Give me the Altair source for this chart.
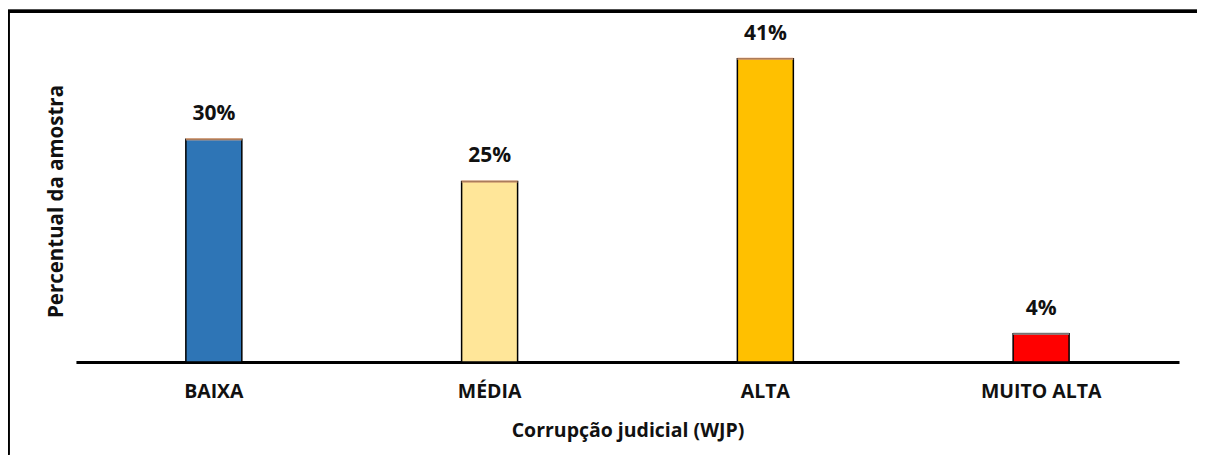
import altair as alt
import pandas as pd

categories = ["BAIXA", "MÉDIA", "ALTA", "MUITO ALTA"]
values = [30.1, 24.4, 41.0, 3.8]
labels = ["30%", "25%", "41%", "4%"]
fills = ["#2E75B6", "#FFE699", "#FFC000", "#FF0000"]
caps = ["#F4B183", "#F4B183", "#F4B183", "#A5A5A5"]

df = pd.DataFrame({"cat": categories, "val": values, "lab": labels,
                   "fill": fills, "cap": caps})

W, H = 1180, 444
FONT = "Open Sans"

xscale = alt.Scale(domain=categories, range=[68, 1172],
                   paddingInner=0.797, paddingOuter=0.3986)
yscale = alt.Scale(domain=[0, 45], range=[351, 18])

x_enc = alt.X("cat:N", sort=categories, scale=xscale,
              axis=alt.Axis(title="Corrupção judicial (WJP)", labelAngle=0,
                            labelFont=FONT, labelFontWeight="bold", labelFontSize=19.5,
                            labelColor="#111111", labelPadding=21,
                            titleFont=FONT, titleFontWeight="bold", titleFontSize=19.5,
                            titleColor="#111111", titlePadding=20,
                            domainColor="#000000", domainWidth=3, ticks=False,
                            offset=-(H - 351)))
y_enc = alt.Y("val:Q", scale=yscale,
              axis=alt.Axis(title="Percentual da amostra", labels=False, ticks=False,
                            domain=False, grid=False,
                            titleFont=FONT, titleFontWeight="bold", titleFontSize=20.5,
                            titleColor="#111111", titleAngle=-90,
                            titleX=49, titleY=190, titleAlign="center",
                            titleBaseline="middle"))

bars = alt.Chart(df).mark_bar(stroke="#000000", strokeWidth=1.5).encode(
    x=x_enc, y=y_enc,
    fill=alt.Fill("fill:N", scale=None),
)

capmark = alt.Chart(df).mark_tick(thickness=2.5, size=56).encode(
    x=alt.X("cat:N", sort=categories, scale=xscale),
    y=alt.Y("val:Q", scale=yscale),
    color=alt.Color("cap:N", scale=None),
)

text = alt.Chart(df).mark_text(font=FONT, fontWeight="bold", fontSize=21,
                               color="#111111", dy=-25).encode(
    x=alt.X("cat:N", sort=categories, scale=xscale),
    y=alt.Y("val:Q", scale=yscale),
    text="lab:N",
)

frame_left = alt.Chart(df).mark_rule(color="#000000", strokeWidth=3).encode(
    x=alt.value(0), y=alt.value(0), y2=alt.value(H))
frame_top = alt.Chart(df).mark_rule(color="#000000", strokeWidth=3).encode(
    x=alt.value(0), x2=alt.value(W + 20), y=alt.value(0))

chart = alt.layer(bars, capmark, text, frame_left, frame_top).properties(
    width=W, height=H,
    background="#FFFFFF",
    autosize=alt.AutoSizeParams(type="none"),
    padding={"left": 0, "top": 3, "right": 10, "bottom": 0},
).configure_view(strokeWidth=0, stroke="transparent")

chart.save("out.html", embed_options={"renderer": "svg", "actions": False})
